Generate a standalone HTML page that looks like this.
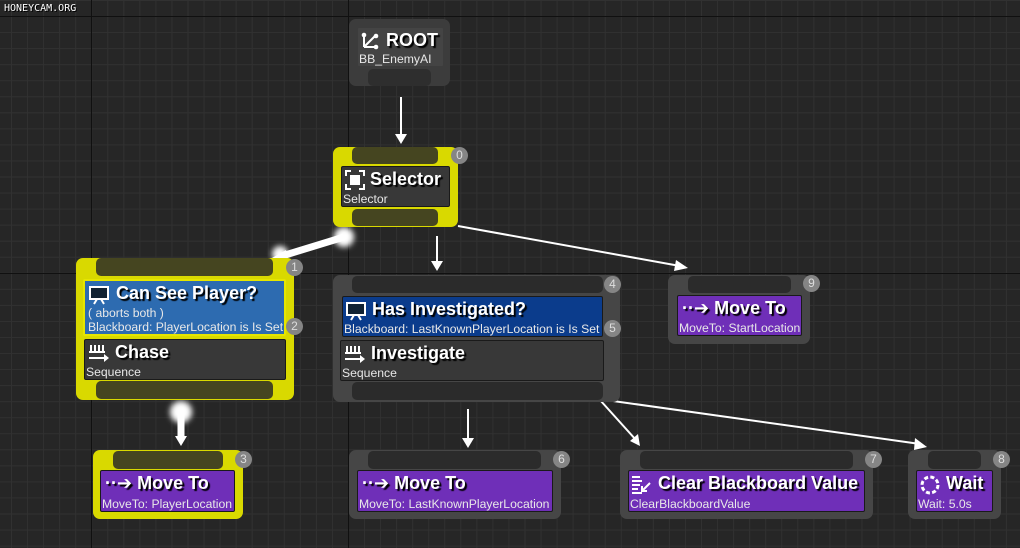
<!DOCTYPE html>
<html><head><meta charset="utf-8"><style>
*{margin:0;padding:0;box-sizing:border-box}
body{width:1020px;height:548px;overflow:hidden;background:#262626;font-family:"Liberation Sans","DejaVu Sans",sans-serif;position:relative}
.grid{position:absolute;inset:0;background-image:linear-gradient(to right,#313131 1px,transparent 1px),linear-gradient(to bottom,#313131 1px,transparent 1px);background-size:16.06px 16.06px;background-position:11px 0px}
.maj{position:absolute;background:#101010}
.n{position:absolute;border-radius:7px}
.bar{position:absolute;border-radius:5px}
.in{position:absolute;border:1px solid #1a1a1a;border-radius:2px;color:#fff;overflow:hidden;white-space:nowrap}
.t{font-weight:bold;font-size:18px;text-shadow:2px 2px 1px #000;position:absolute;top:2px}
.s{font-size:12.2px;position:absolute;color:#e8e8e8}
.b{position:absolute;width:17px;height:17px;border-radius:50%;background:#858585;color:#ddd;font-size:12px;text-align:center;line-height:17px}
.y{background:#d9d900}.g{background:#464646}
.yb{background:#454520}.gb{background:#2b2b2b}
.dk{background:#383838}.bl{background:#2d6bb0}.db{background:#0b3c8c}.pu{background:#6f2fb8}
</style></head><body>
<div class="grid"></div>
<div class="maj" style="left:91px;top:0;width:1px;height:548px"></div>
<div class="maj" style="left:348px;top:0;width:1px;height:548px"></div>
<div class="maj" style="left:0;top:16px;width:1020px;height:1px"></div>
<div class="maj" style="left:0;top:273px;width:1020px;height:1px"></div>
<div style="position:absolute;left:4px;top:3px;font-size:10px;color:#fff;font-family:'DejaVu Sans Mono',monospace;text-shadow:1px 1px 0 #000">HONEYCAM.ORG</div>

<svg width="1020" height="548" style="position:absolute;left:0;top:0">
<defs><filter id="gl"><feGaussianBlur stdDeviation="3"/></filter></defs>
<g stroke="#fff" stroke-width="2" fill="#fff">
<line x1="401" y1="97" x2="401" y2="138"/><polygon points="395,134 407,134 401,144" stroke="none"/>
<line x1="437" y1="236" x2="437" y2="265"/><polygon points="431,261 443,261 437,271" stroke="none"/>
<line x1="458" y1="226" x2="680" y2="266"/><polygon points="676,260 688,268 674,271" stroke="none"/>
<line x1="468" y1="409" x2="468" y2="442"/><polygon points="462,438 474,438 468,448" stroke="none"/>
<line x1="600" y1="400" x2="636" y2="440"/><polygon points="630,441 640,446 638,434" stroke="none"/>
<line x1="606" y1="400" x2="920" y2="444"/><polygon points="915,438 927,447 914,450" stroke="none"/>
</g>
<g filter="url(#gl)" fill="#fff"><circle cx="344" cy="237" r="10"/><circle cx="280" cy="254" r="8"/><circle cx="181" cy="412" r="11"/></g>
<line x1="344" y1="237" x2="282" y2="256" stroke="#fff" stroke-width="7"/>
<polygon points="272,258 286,250 288,262" fill="#fff"/>
<line x1="181" y1="410" x2="181" y2="438" stroke="#fff" stroke-width="7"/>
<polygon points="175,436 187,436 181,446" fill="#fff"/>
</svg>

<!-- ROOT -->
<div class="n g" style="left:349px;top:19px;width:101px;height:67px;background:#3c3c3c"></div>
<div class="bar gb" style="left:368px;top:69px;width:63px;height:17px;background:#2e2e2e"></div>
<div class="in" style="left:357px;top:27px;width:87px;height:40px;background:#444;border-color:#3c3c3c">
<svg style="position:absolute;left:3px;top:4px" width="18" height="18"><g stroke="#fff" stroke-width="2"><line x1="3" y1="15" x2="15" y2="15"/><line x1="3" y1="15" x2="14" y2="4"/><line x1="3" y1="15" x2="3" y2="4"/></g><g fill="#fff"><circle cx="3" cy="3" r="2.3"/><circle cx="15" cy="4" r="2.3"/><circle cx="15" cy="15" r="2.3"/></g></svg>
<div class="t" style="left:28px">ROOT</div><div class="s" style="left:1px;top:24px">BB_EnemyAI</div></div>

<!-- Selector -->
<div class="n y" style="left:333px;top:147px;width:125px;height:80px"></div>
<div class="bar yb" style="left:352px;top:147px;width:86px;height:17px"></div>
<div class="bar yb" style="left:352px;top:209px;width:86px;height:17px"></div>
<div class="in dk" style="left:341px;top:166px;width:109px;height:41px">
<svg style="position:absolute;left:3px;top:3px" width="20" height="20"><path d="M1 6V1h5M14 1h5v5M19 14v5h-5M6 19H1v-5" stroke="#fff" stroke-width="2" fill="none"/><rect x="5" y="5" width="10" height="10" fill="#fff"/></svg>
<div class="t" style="left:28px">Selector</div><div class="s" style="left:1px;top:25px">Selector</div></div>
<div class="b" style="left:451px;top:147px">0</div>

<!-- Can See Player / Chase -->
<div class="n y" style="left:76px;top:258px;width:218px;height:142px"></div>
<div class="bar yb" style="left:96px;top:258px;width:177px;height:18px"></div>
<div class="bar yb" style="left:96px;top:381px;width:177px;height:18px"></div>
<div class="in bl" style="left:83px;top:279px;width:203px;height:57px;border:2px solid #e6e600">
<svg style="position:absolute;left:4px;top:4px" width="20" height="20"><rect x="1" y="2" width="18" height="12" fill="#123" stroke="#fff" stroke-width="2"/><path d="M5 19l3-5M15 19l-3-5" stroke="#fff" stroke-width="2"/></svg>
<div class="t" style="left:31px;top:2px">Can See Player?</div>
<div class="s" style="left:3px;top:25px">( aborts both )</div><div class="s" style="left:3px;top:39px">Blackboard: PlayerLocation is Is Set</div></div>
<div class="in dk" style="left:84px;top:339px;width:202px;height:41px">
<svg style="position:absolute;left:3px;top:3px" width="22" height="20"><path d="M3 2v6M7 2v6M11 2v6M15 2v6M1 9h16M1 15h16" stroke="#fff" stroke-width="2"/><polygon points="16,11 21,15 16,19" fill="#fff"/></svg>
<div class="t" style="left:30px">Chase</div><div class="s" style="left:1px;top:25px">Sequence</div></div>
<div class="b" style="left:286px;top:259px">1</div><div class="b" style="left:286px;top:318px">2</div>

<!-- Has Investigated / Investigate -->
<div class="n g" style="left:333px;top:275px;width:287px;height:127px"></div>
<div class="bar gb" style="left:352px;top:276px;width:251px;height:17px"></div>
<div class="bar gb" style="left:352px;top:382px;width:251px;height:18px"></div>
<div class="in db" style="left:342px;top:296px;width:261px;height:41px">
<svg style="position:absolute;left:3px;top:4px" width="20" height="20"><rect x="1" y="2" width="18" height="12" fill="#123" stroke="#fff" stroke-width="2"/><path d="M5 19l3-5M15 19l-3-5" stroke="#fff" stroke-width="2"/></svg>
<div class="t" style="left:29px">Has Investigated?</div><div class="s" style="left:1px;top:25px">Blackboard: LastKnownPlayerLocation is Is Set</div></div>
<div class="in dk" style="left:340px;top:340px;width:264px;height:41px">
<svg style="position:absolute;left:3px;top:3px" width="22" height="20"><path d="M3 2v6M7 2v6M11 2v6M15 2v6M1 9h16M1 15h16" stroke="#fff" stroke-width="2"/><polygon points="16,11 21,15 16,19" fill="#fff"/></svg>
<div class="t" style="left:30px">Investigate</div><div class="s" style="left:1px;top:25px">Sequence</div></div>
<div class="b" style="left:604px;top:276px">4</div><div class="b" style="left:604px;top:320px">5</div>

<!-- MoveTo 9 -->
<div class="n g" style="left:668px;top:275px;width:142px;height:69px"></div>
<div class="bar gb" style="left:688px;top:276px;width:103px;height:17px"></div>
<div class="in pu" style="left:677px;top:295px;width:125px;height:41px">
<div class="t" style="left:4px">··➔ Move To</div><div class="s" style="left:1px;top:25px">MoveTo: StartLocation</div></div>
<div class="b" style="left:803px;top:275px">9</div>

<!-- Bottom row -->
<div class="n y" style="left:93px;top:450px;width:150px;height:69px"></div>
<div class="bar yb" style="left:113px;top:451px;width:110px;height:18px"></div>
<div class="in pu" style="left:100px;top:470px;width:135px;height:42px">
<div class="t" style="left:4px">··➔ Move To</div><div class="s" style="left:1px;top:26px">MoveTo: PlayerLocation</div></div>
<div class="b" style="left:235px;top:451px">3</div>

<div class="n g" style="left:349px;top:450px;width:212px;height:69px"></div>
<div class="bar gb" style="left:368px;top:451px;width:173px;height:18px"></div>
<div class="in pu" style="left:357px;top:470px;width:196px;height:42px">
<div class="t" style="left:4px">··➔ Move To</div><div class="s" style="left:1px;top:26px">MoveTo: LastKnownPlayerLocation</div></div>
<div class="b" style="left:553px;top:451px">6</div>

<div class="n g" style="left:620px;top:450px;width:253px;height:69px"></div>
<div class="bar gb" style="left:640px;top:451px;width:213px;height:18px"></div>
<div class="in pu" style="left:628px;top:470px;width:237px;height:42px">
<svg style="position:absolute;left:2px;top:4px" width="22" height="20"><path d="M1 2h8M1 6h10M1 10h8M1 14h6M1 18h10M19 8l-8 8M11 11v5h5" stroke="#fff" stroke-width="2" fill="none"/></svg>
<div class="t" style="left:29px">Clear Blackboard Value</div><div class="s" style="left:1px;top:26px">ClearBlackboardValue</div></div>
<div class="b" style="left:865px;top:451px">7</div>

<div class="n g" style="left:908px;top:450px;width:93px;height:69px"></div>
<div class="bar gb" style="left:928px;top:451px;width:53px;height:18px"></div>
<div class="in pu" style="left:916px;top:470px;width:77px;height:42px">
<svg style="position:absolute;left:2px;top:3px" width="22" height="22"><circle cx="11" cy="11" r="8" stroke="#fff" stroke-width="3" fill="none" stroke-dasharray="4 2.3"/></svg>
<div class="t" style="left:29px">Wait</div><div class="s" style="left:1px;top:26px">Wait: 5.0s</div></div>
<div class="b" style="left:993px;top:451px">8</div>
</body></html>
